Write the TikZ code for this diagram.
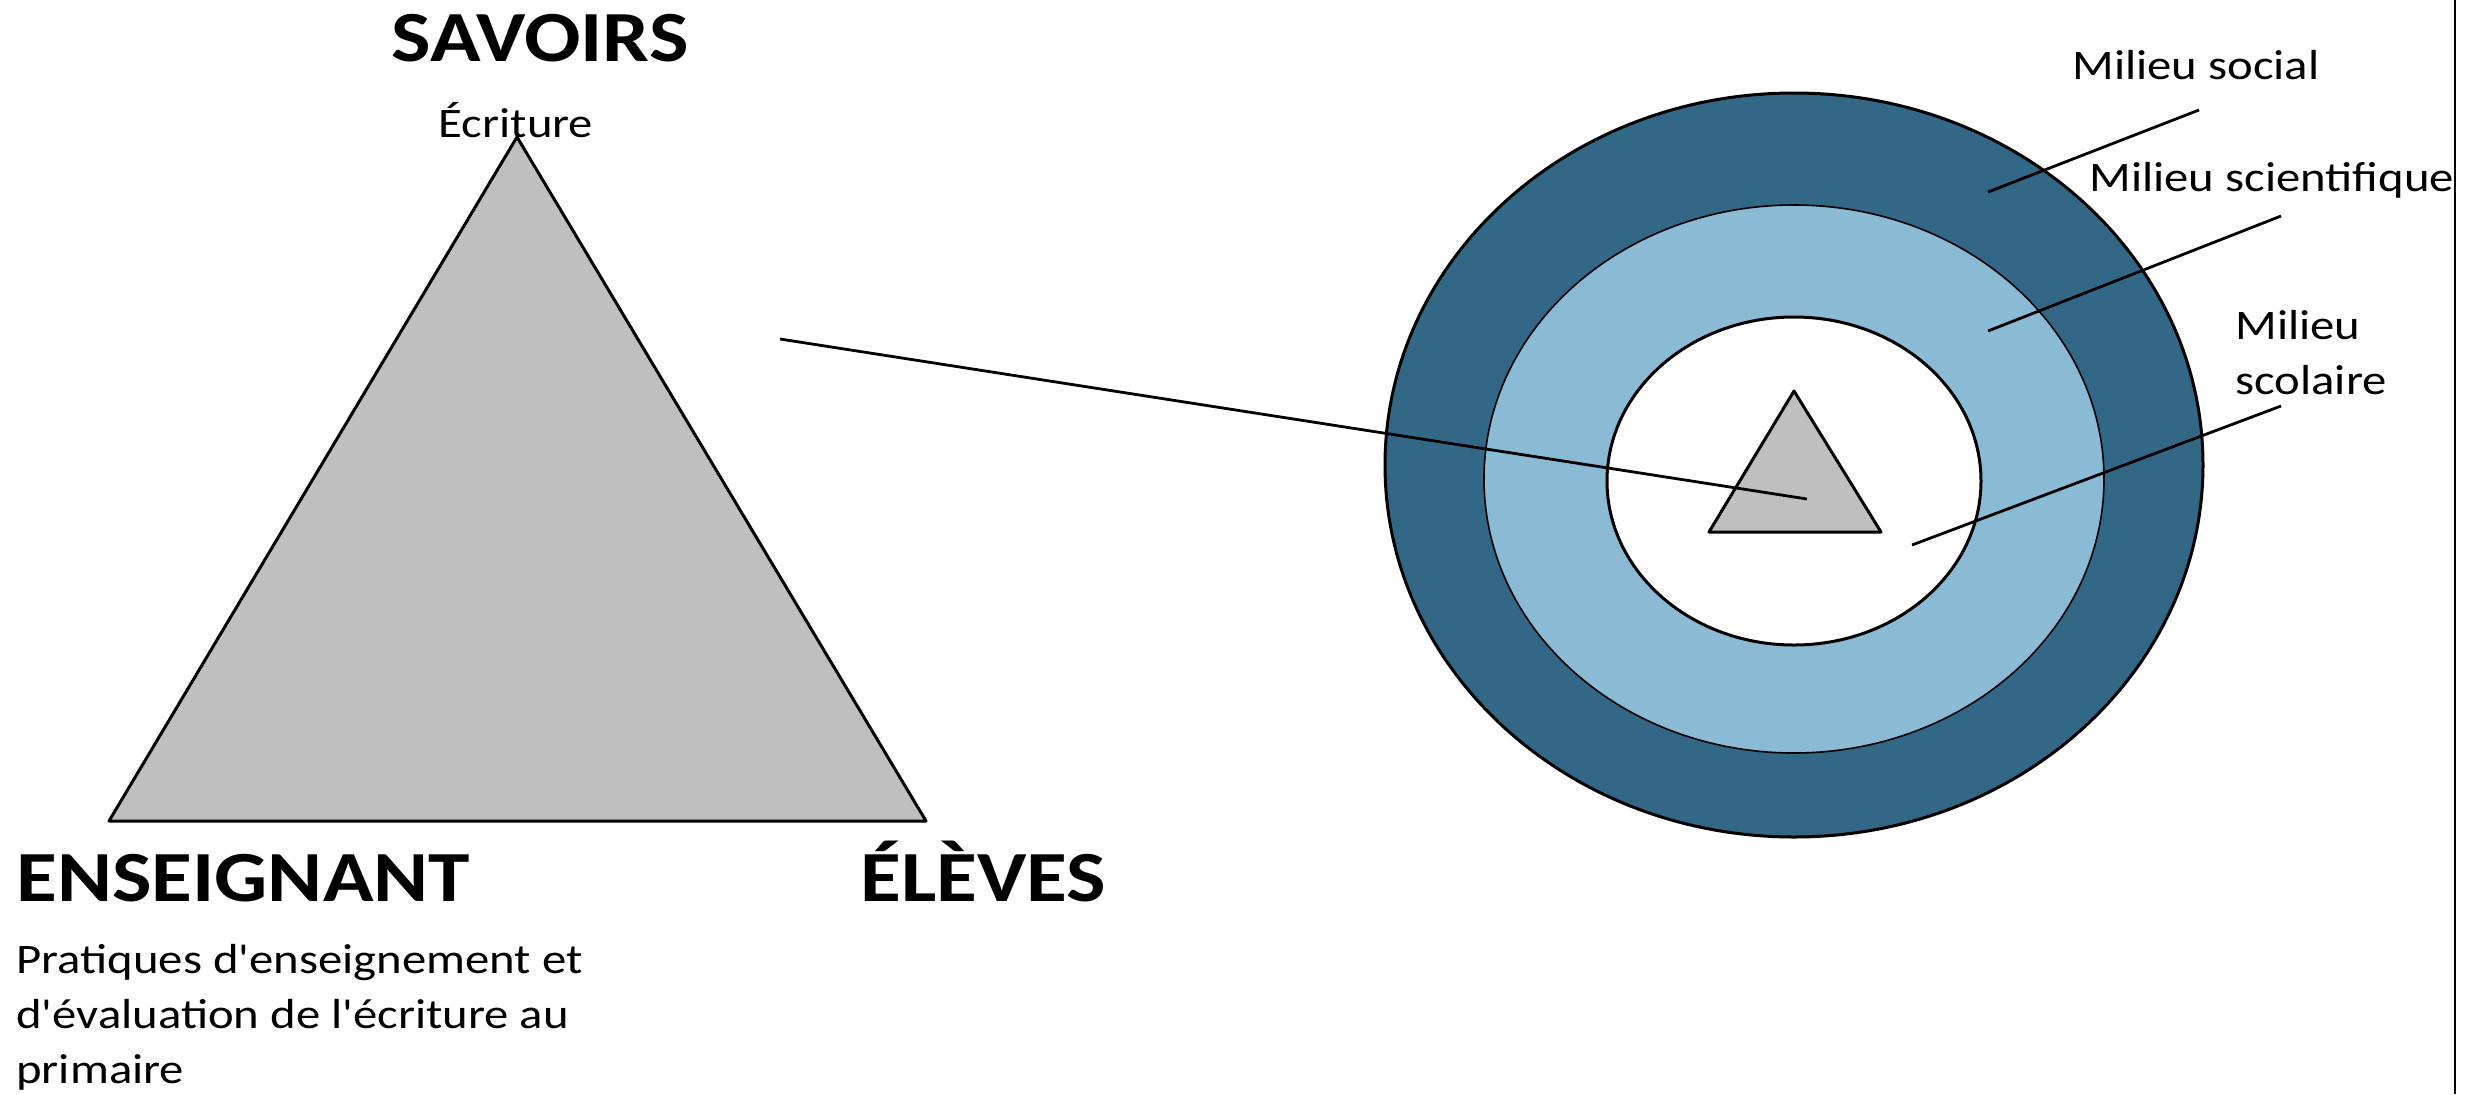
\documentclass[tikz,border=0pt]{standalone}
\usepackage{fontspec}
\setmainfont{Carlito}[Ligatures=TeXOff, FakeStretch=1.16]
\definecolor{socialblue}{RGB}{50,104,134}
\definecolor{scienceblue}{RGB}{139,186,213}
\definecolor{pologray}{RGB}{191,191,191}
\begin{document}
\begin{tikzpicture}[x=0.5pt, y=-0.5pt,
    pole/.style={font=\bfseries\fontsize{36}{40}\selectfont, inner sep=0pt},
    label/.style={font=\fontsize{21}{27.5}\selectfont, inner sep=0pt, align=left},
    leader/.style={line width=1.4pt}]
  \useasboundingbox (0,0) rectangle (2470,1094);
  % triangle didactique
  \coordinate (S) at (517,137);
  \coordinate (En) at (109,821);
  \coordinate (El) at (926,821);
  \draw[fill=pologray, line width=1.5pt, line join=round] (S) -- (En) -- (El) -- cycle;
  \node[pole] (savoirs) at (540,38) {SAVOIRS};
  \node[label] (ecriture) at (516,120) {Écriture};
  \node[pole, anchor=base west] (enseignant) at (16,901) {ENSEIGNANT};
  \node[pole, anchor=base west] (eleves) at (860,901) {ÉLÈVES};
  \node[label, anchor=base west] (pratiques) at (16,1083)
    {Pratiques d'enseignement et\\d'évaluation de l'écriture au\\primaire};
  % milieux
  \draw[fill=socialblue, line width=1.5pt] (1794,465) ellipse [x radius=204.5pt, y radius=186pt];
  \draw[fill=scienceblue, line width=0.8pt] (1794,479) ellipse [x radius=155pt, y radius=137pt];
  \draw[fill=white, line width=1.5pt] (1794,481) ellipse [x radius=93.5pt, y radius=82pt];
  \coordinate (s) at (1794,391);
  \coordinate (en) at (1709,532);
  \coordinate (el) at (1881,532);
  \draw[fill=pologray, line width=1.5pt, line join=round] (s) -- (en) -- (el) -- cycle;
  % zoom
  \coordinate (zoomA) at (780,339);
  \coordinate (zoomB) at (1807,499);
  \draw[leader] (zoomA) -- (zoomB);
  % etiquettes
  \node[label] (social) at (2196,65) {Milieu social};
  \node[label, anchor=base west] (scientifique) at (2089,191) {Milieu scientifique};
  \node[label, anchor=base west] (scolaire) at (2235,394) {Milieu\\scolaire};
  \coordinate (socialA) at (1988,192);
  \coordinate (socialB) at (2199,110);
  \coordinate (scientA) at (1988,331);
  \coordinate (scientB) at (2281,216);
  \coordinate (scolA) at (1912,545);
  \coordinate (scolB) at (2281,406);
  \draw[leader] (socialA) -- (socialB);
  \draw[leader] (scientA) -- (scientB);
  \draw[leader] (scolA) -- (scolB);
  % bord
  \coordinate (bordA) at (2455,0);
  \coordinate (bordB) at (2455,1094);
  \draw[line width=1.2pt] (bordA) -- (bordB);
\end{tikzpicture}
\end{document}
